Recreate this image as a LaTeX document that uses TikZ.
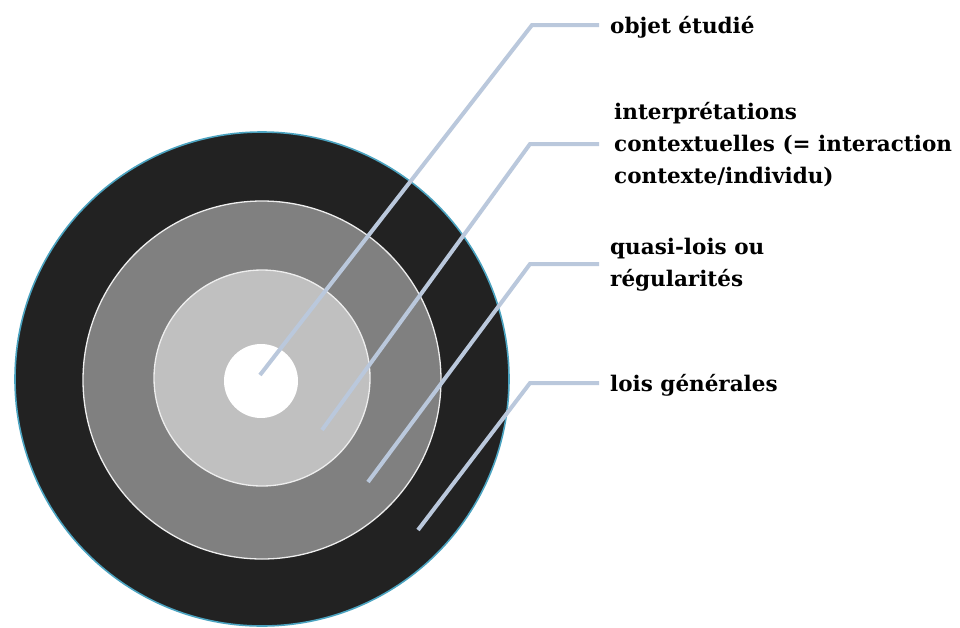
\documentclass[tikz,border=0pt]{standalone}
\usepackage{fontspec}
\setmainfont{DejaVu Serif}
\definecolor{darkc}{HTML}{222222}
\definecolor{tealc}{HTML}{4BA3C0}
\definecolor{midc}{HTML}{808080}
\definecolor{lightc}{HTML}{C0C0C0}
\definecolor{edgec}{HTML}{EEEEEE}
\definecolor{leadc}{HTML}{BAC8DC}
\begin{document}
\begin{tikzpicture}[x=1pt,y=-1pt,
  ring/.style={circle, inner sep=0pt, minimum size=#1},
  lead/.style={draw=leadc, line width=4pt, line join=miter},
  lbl/.style={anchor=west, align=left, inner sep=0pt, font=\bfseries\fontsize{21.5}{32}\selectfont}]
\useasboundingbox (0,0) rectangle (960,627);
\node[ring=494pt, fill=darkc, draw=tealc, line width=1.6pt] (outer) at (262,379) {};
\node[ring=358pt, fill=midc, draw=edgec, line width=1.3pt] (mid) at (262,380) {};
\node[ring=216pt, fill=lightc, draw=edgec, line width=1.3pt] (inner) at (262,378) {};
\node[ring=74pt, fill=white] (core) at (261,381) {};

\node[lbl] (t1) at (610,27) {objet étudié};
\node[lbl] (t2) at (614,145) {interprétations\\contextuelles (= interaction\\contexte/individu)};
\node[lbl] (t3) at (610,265) {quasi-lois ou\\régularités};
\node[lbl] (t4) at (610,385) {lois générales};

\coordinate (e1) at (260,375);
\coordinate (c1) at (532,25);
\coordinate (h1) at (599,25);
\coordinate (e2) at (322,430);
\coordinate (c2) at (530,144);
\coordinate (h2) at (599,144);
\coordinate (e3) at (368,482);
\coordinate (c3) at (530,264);
\coordinate (h3) at (599,264);
\coordinate (e4) at (418,530);
\coordinate (c4) at (530,383);
\coordinate (h4) at (599,383);

\draw[lead] (e1) -- (c1) -- (h1);
\draw[lead] (e2) -- (c2) -- (h2);
\draw[lead] (e3) -- (c3) -- (h3);
\draw[lead] (e4) -- (c4) -- (h4);
\end{tikzpicture}
\end{document}
